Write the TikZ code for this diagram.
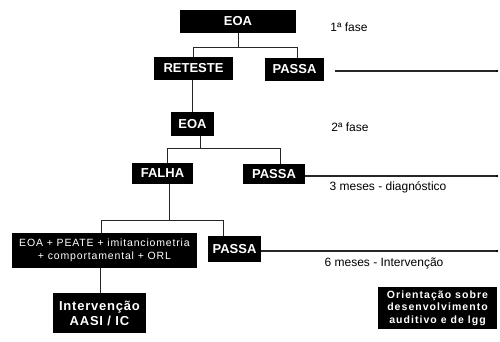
\documentclass[tikz,border=0pt]{standalone}
\usepackage{fontspec}
\setmainfont{Liberation Sans}
\begin{document}
\begin{tikzpicture}[x=1pt,y=-1pt,
  box/.style={fill=black,text=white,inner sep=0pt,align=center,font=\fontsize{13}{15}\selectfont\bfseries},
  lab/.style={inner sep=0pt,font=\fontsize{12}{14}\selectfont},
  conn/.style={line width=1pt,draw=black!85},
  hline/.style={line width=1.1pt,draw=black!85},
  enddot/.style={circle,fill=black,inner sep=0pt,minimum size=2.5pt}]
\useasboundingbox[fill=white] (0,0) rectangle (500,342);
% boxes
\node[box,minimum width=116pt,minimum height=23pt] (eoa1) at (238,21.5) {EOA};
\node[box,minimum width=79pt,minimum height=23pt] (ret) at (193.5,68.5) {RETESTE};
\node[box,minimum width=59pt,minimum height=23pt] (passa1) at (294.5,69.5) {PASSA};
\node[box,minimum width=43pt,minimum height=24pt] (eoa2) at (192.5,124) {EOA};
\node[box,minimum width=61pt,minimum height=21pt] (falha) at (162.5,173.5) {FALHA};
\node[box,minimum width=62pt,minimum height=20pt] (passa2) at (274,174) {PASSA};
\node[box,minimum width=185pt,minimum height=35pt,font=\fontsize{10.5}{13.5}\selectfont\addfontfeature{LetterSpace=8}] (big) at (104.5,250.5) {EOA + PEATE + imitanciometria\\+ comportamental + ORL};
\node[box,minimum width=53pt,minimum height=26pt] (passa3) at (234.5,249) {PASSA};
\node[box,minimum width=93pt,minimum height=40pt,font=\fontsize{13}{15}\selectfont\bfseries\addfontfeature{LetterSpace=6}] (interv) at (99.5,313) {Intervenção\\AASI / IC};
\node[box,minimum width=119pt,minimum height=42pt,font=\fontsize{10.5}{12.5}\selectfont\bfseries\addfontfeature{LetterSpace=10}] (orient) at (437.5,308) {Orientação sobre\\desenvolvimento\\auditivo e de lgg};
% labels
\node[lab] (f1) at (349,27) {1ª fase};
\node[lab] (f2) at (350,127) {2ª fase};
\node[lab] (m3) at (388,187) {3 meses - diagnóstico};
\node[lab] (m6) at (384,263) {6 meses - Intervenção};
% junctions
\coordinate (j1) at (238,48);
\coordinate (j2) at (200,148);
\coordinate (j2l) at (167,148);
\coordinate (j2r) at (280,148);
\coordinate (j3) at (169,220);
\coordinate (j3l) at (101,220);
\coordinate (j3r) at (223,220);
% tree connectors
\draw[conn] (eoa1.south) -- (j1);
\draw[conn] (j1) -| (ret.north);
\draw[conn] (j1) -| (297,0 |- passa1.north);
\draw[conn] (192,0 |- ret.south) -- (192,0 |- eoa2.north);
\draw[conn] (200,0 |- eoa2.south) -- (j2);
\draw[conn] (j2l) -- (j2r);
\draw[conn] (j2l) -- (j2l |- falha.north);
\draw[conn] (j2r) -- (j2r |- passa2.north);
\draw[conn] (169,0 |- falha.south) -- (j3);
\draw[conn] (j3l) -- (j3r);
\draw[conn] (j3l) -- (j3l |- big.north);
\draw[conn] (j3r) -- (j3r |- passa3.north);
\draw[conn] (100,0 |- big.south) -- (100,0 |- interv.north);
% right lines
\coordinate (e1) at (497,71);
\coordinate (e2) at (497,176);
\coordinate (e3) at (497,251);
\draw[hline] ([xshift=11pt]passa1.east |- e1) -- (e1);
\draw[hline] (passa2.east |- e2) -- (e2);
\draw[hline] (passa3.east |- e3) -- (e3);
\node[enddot] (d1) at (e1) {};
\node[enddot] (d2) at (e2) {};
\node[enddot] (d3) at (e3) {};
\end{tikzpicture}
\end{document}
